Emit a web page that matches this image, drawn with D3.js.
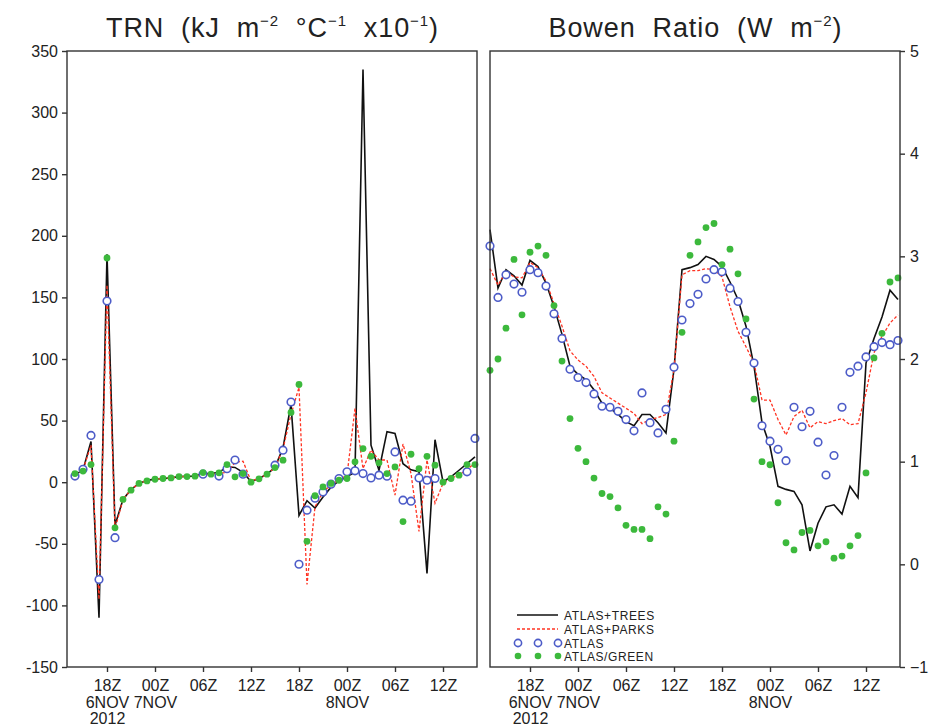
<!DOCTYPE html>
<html>
<head>
<meta charset="utf-8">
<script src="https://cdn.jsdelivr.net/npm/d3@7"></script>
<style>
  body { margin: 0; background: #fff; }
  text { font-family: "Liberation Sans", Arial, sans-serif; fill: #222; }
</style>
</head>
<body>
<svg id="chart" width="932" height="728"></svg>
<script>
// hourly samples, index 0 = 13Z 6 NOV 2012
const xTickHours = [5, 11, 17, 23, 29, 35, 41, 47];
const xTickLabels = ['18Z\n6NOV\n2012', '00Z\n7NOV', '06Z', '12Z', '18Z', '00Z\n8NOV', '06Z', '12Z'];
const trnTicks = [-150, -100, -50, 0, 50, 100, 150, 200, 250, 300, 350];
const bowenTicks = [-1, 0, 1, 2, 3, 4, 5];

// TRN panel
const trnTrees = [null, 6, 10, 33, -110, 185, -35, -14, -6, -1, 1.5, 2.5, 3, 3.5, 4.5, 4.7, 5, 7, 7, 8,
  12.5, 12, 8, 0.5, 3, 6.5, 12, 28, 63, -27, -15, -21, -12, -4, 1, 4.5, 8, 335, 30, 9.7,
  41, 39.5, 15, 10, 8.5, -74, 34.5, 0.3, 4.4, 9.7, 15, 20.5];
const trnParks = [null, 6, 10, 30, -95, 160, -38, -14, -6, -1, 1.5, 2.5, 3, 3.5, 4.5, 4.7, 5, 6, 6.5, 7,
  8, 16, 17, 1, 3, 6.5, 12, 27, 55, 77, -83, -20, -8, -2, 2, 5.5, 60, 11, 26, 18,
  18, -10.5, 31, 7, -40, 18, -17, -1, 3, 6, 10, 16];
const trnAtlas = [null, 5, 10.5, 38, -79, 147, -45, null, null, null, null, null, null, null, null, null, null, 6.5, null, 5,
  11, 18, 6.5, null, null, null, 13.8, 26, 65, -66.6, -22.7, -13, -8, -1.6, 3, 8.4, 9.2, 7, 3.5, 5.7,
  4.9, 24.6, -14.6, -15.4, 3.5, 1.6, 3, null, null, null, 8.4, 35.5];
const trnGreen = [null, 7, 9, 14.3, null, 182, -37, -14, -6.5, -1, 1, 2.4, 3, 3.5, 4.6, 4.6, 4.9, 7.8, 6.5, 7.6,
  14.3, 4.4, 7, 0, 2.7, 6.5, 11.9, 17.9, 56.6, 79.3, -48, -11, -3.8, -1, 1.6, 3, 16.5, 27.3, 21, 15.7,
  7, 12.4, -32, 22.7, 11, 21, 13.8, 0, 3, 5.7, 14.3, 14.3];

// Bowen ratio panel
const bowenTrees = [3.26, 2.69, 2.87, 2.81, 2.72, 2.96, 2.90, 2.74, 2.51, 2.24, 1.93, 1.85, 1.80, 1.70, 1.57, 1.52, 1.46, 1.39, 1.35, 1.46,
  1.46, 1.38, 1.28, 1.90, 2.87, 2.89, 2.92, 3.00, 2.97, 2.90, 2.75, 2.58, 2.32, 1.93, 1.38, 1.15, 0.76, 0.73, 0.71, 0.58,
  0.13, 0.40, 0.56, 0.58, 0.49, 0.76, 0.65, 1.96, 2.20, 2.41, 2.67, 2.58];
const bowenParks = [2.88, 2.72, 2.85, 2.80, 2.79, 2.94, 2.89, 2.76, 2.54, 2.32, 2.08, 1.99, 1.93, 1.83, 1.67, 1.62, 1.57, 1.52, 1.47, 1.37,
  1.41, 1.43, 1.46, 1.90, 2.82, 2.86, 2.86, 2.88, 2.87, 2.80, 2.51, 2.27, 2.12, 1.96, 1.60, 1.60, 1.41, 1.26, 1.44, 1.50,
  1.33, 1.39, 1.37, 1.40, 1.42, 1.36, 1.37, 1.67, 2.06, 2.22, 2.35, 2.43];
const bowenAtlas = [3.10, 2.60, 2.82, 2.73, 2.65, 2.87, 2.84, 2.71, 2.44, 2.20, 1.90, 1.82, 1.77, 1.66, 1.54, 1.53, 1.49, 1.41, 1.30, 1.67,
  1.38, 1.28, 1.51, 1.92, 2.38, 2.54, 2.63, 2.78, 2.87, 2.85, 2.69, 2.56, 2.26, 1.96, 1.35, 1.20, 1.12, 1.01, 1.53, 1.34,
  1.49, 1.19, 0.87, 1.06, 1.53, 1.87, 1.93, 2.02, 2.12, 2.16, 2.14, 2.18];
const bowenGreen = [1.89, 2.00, 2.30, 2.97, 2.43, 3.04, 3.10, 3.01, 2.52, 1.98, 1.42, 1.13, 1.00, 0.84, 0.69, 0.66, 0.55, 0.38, 0.34, 0.34,
  0.25, 0.56, 0.49, 1.20, 2.26, 3.01, 3.14, 3.28, 3.32, 2.92, 3.07, 2.83, 2.39, 1.61, 1.00, 0.97, 0.60, 0.21, 0.14, 0.31,
  0.33, 0.18, 0.22, 0.06, 0.08, 0.18, 0.28, 0.89, 2.01, 2.25, 2.75, 2.79];

const legendLabels = ['ATLAS+TREES', 'ATLAS+PARKS', 'ATLAS', 'ATLAS/GREEN'];

const colors = { trees: '#111', parks: '#ff3322', atlas: '#4d5cc8', green: '#3cb93c' };

const svg = d3.select('#chart');
const plotTop = 51, plotBottom = 667;

function drawPanel(cfg) {
  const x = d3.scaleLinear().domain([0, 51.25]).range([cfg.x0, cfg.x1]);
  const y = d3.scaleLinear().domain(cfg.yDomain).range([plotBottom, plotTop]);
  const g = svg.append('g');

  const toPts = (arr) => arr.map((v, i) => ({ i, v }));
  const line = d3.line()
    .defined((d) => d.v != null)
    .x((d) => x(d.i))
    .y((d) => y(d.v));

  g.append('path')
    .attr('d', line(toPts(cfg.trees)))
    .attr('fill', 'none')
    .attr('stroke', colors.trees)
    .attr('stroke-width', 1.6);

  g.append('path')
    .attr('d', line(toPts(cfg.parks)))
    .attr('fill', 'none')
    .attr('stroke', colors.parks)
    .attr('stroke-width', 1.3)
    .attr('stroke-dasharray', '3,2');

  g.selectAll('circle.atlas')
    .data(toPts(cfg.atlas).filter((d) => d.v != null))
    .join('circle')
    .attr('class', 'atlas')
    .attr('cx', (d) => x(d.i))
    .attr('cy', (d) => y(d.v))
    .attr('r', 3.8)
    .attr('fill', '#fff')
    .attr('stroke', colors.atlas)
    .attr('stroke-width', 1.6);

  g.selectAll('circle.green')
    .data(toPts(cfg.green).filter((d) => d.v != null))
    .join('circle')
    .attr('class', 'green')
    .attr('cx', (d) => x(d.i))
    .attr('cy', (d) => y(d.v))
    .attr('r', 3.4)
    .attr('fill', colors.green);

  // frame
  g.append('rect')
    .attr('x', cfg.x0)
    .attr('y', plotTop)
    .attr('width', cfg.x1 - cfg.x0)
    .attr('height', plotBottom - plotTop)
    .attr('fill', 'none')
    .attr('stroke', '#333')
    .attr('stroke-width', 1.4);

  // x axis
  const xAxis = g.append('g')
    .attr('transform', `translate(0,${plotBottom})`)
    .call(d3.axisBottom(x).tickValues(xTickHours).tickSize(5).tickSizeOuter(0).tickPadding(8));
  xAxis.select('.domain').remove();
  xAxis.selectAll('.tick line').attr('stroke', '#333').attr('stroke-width', 1.4);
  xAxis.selectAll('.tick text')
    .attr('font-size', 16)
    .attr('fill', '#222')
    .each(function (d, i) {
      const t = d3.select(this).text(null);
      xTickLabels[i].split('\n').forEach((s, j) => {
        t.append('tspan').attr('x', 0).attr('dy', j === 0 ? '0.71em' : '1.03em').text(s);
      });
    });
  xAxis.attr('font-family', null).attr('font-size', null);

  // y axis
  const axis = cfg.side === 'left' ? d3.axisLeft(y) : d3.axisRight(y);
  const yAxis = g.append('g')
    .attr('transform', `translate(${cfg.side === 'left' ? cfg.x0 : cfg.x1},0)`)
    .call(axis.tickValues(cfg.yTicks).tickSize(5).tickSizeOuter(0).tickPadding(cfg.side === 'left' ? 4 : 5)
      .tickFormat(cfg.fmt));
  yAxis.select('.domain').remove();
  yAxis.selectAll('.tick line').attr('stroke', '#333').attr('stroke-width', 1.4);
  yAxis.selectAll('.tick text').attr('font-size', 16).attr('fill', '#222');
  yAxis.attr('font-family', null).attr('font-size', null);

  // title, superscripts raised with dy and dropped back on the next part
  const title = svg.append('text')
    .attr('x', (cfg.x0 + cfg.x1) / 2)
    .attr('y', 37)
    .attr('text-anchor', 'middle')
    .attr('font-size', 27)
    .attr('xml:space', 'preserve')
    .attr('textLength', cfg.titleWidth)
    .attr('lengthAdjust', 'spacing');
  let raised = false;
  cfg.title.forEach((part) => {
    if (part.sup) {
      title.append('tspan').attr('font-size', 15).attr('dy', -11).text(part.sup);
      raised = true;
    } else {
      title.append('tspan').attr('dy', raised ? 11 : null).text(part.t);
      raised = false;
    }
  });

  return { x, y, g };
}

drawPanel({
  x0: 67, x1: 477, side: 'left', yDomain: [-150, 350], yTicks: trnTicks,
  fmt: (d) => String(d),
  trees: trnTrees, parks: trnParks, atlas: trnAtlas, green: trnGreen,
  titleWidth: 332,
  title: [{ t: 'TRN  (kJ  m' }, { sup: '\u22122' }, { t: '  \u00b0C' }, { sup: '\u22121' }, { t: '  x10' }, { sup: '\u22121' }, { t: ')' }],
});

drawPanel({
  x0: 490, x1: 900, side: 'right', yDomain: [-1, 5], yTicks: bowenTicks,
  fmt: (d) => (d < 0 ? '\u2212' + Math.abs(d) : String(d)),
  trees: bowenTrees, parks: bowenParks, atlas: bowenAtlas, green: bowenGreen,
  titleWidth: 293,
  title: [{ t: 'Bowen  Ratio  (W  m' }, { sup: '\u22122' }, { t: ')' }],
});

// legend
const legend = svg.append('g');
const legY = [615, 629, 643, 656];
legendLabels.forEach((label, i) => {
  const yy = legY[i];
  if (i === 0 || i === 1) {
    legend.append('line')
      .attr('x1', 517).attr('x2', 558).attr('y1', yy).attr('y2', yy)
      .attr('stroke', i === 0 ? colors.trees : colors.parks)
      .attr('stroke-width', i === 0 ? 1.6 : 1.3)
      .attr('stroke-dasharray', i === 1 ? '3,2' : null);
  } else {
    [518, 538, 558].forEach((cx) => {
      const c = legend.append('circle').attr('cx', cx).attr('cy', yy);
      if (i === 2) c.attr('r', 3.6).attr('fill', '#fff').attr('stroke', colors.atlas).attr('stroke-width', 1.6);
      else c.attr('r', 3.3).attr('fill', colors.green);
    });
  }
  legend.append('text')
    .attr('x', 564)
    .attr('y', yy + 4.5)
    .attr('font-size', 12)
    .attr('letter-spacing', 0.6)
    .text(label);
});
</script>
</body>
</html>
